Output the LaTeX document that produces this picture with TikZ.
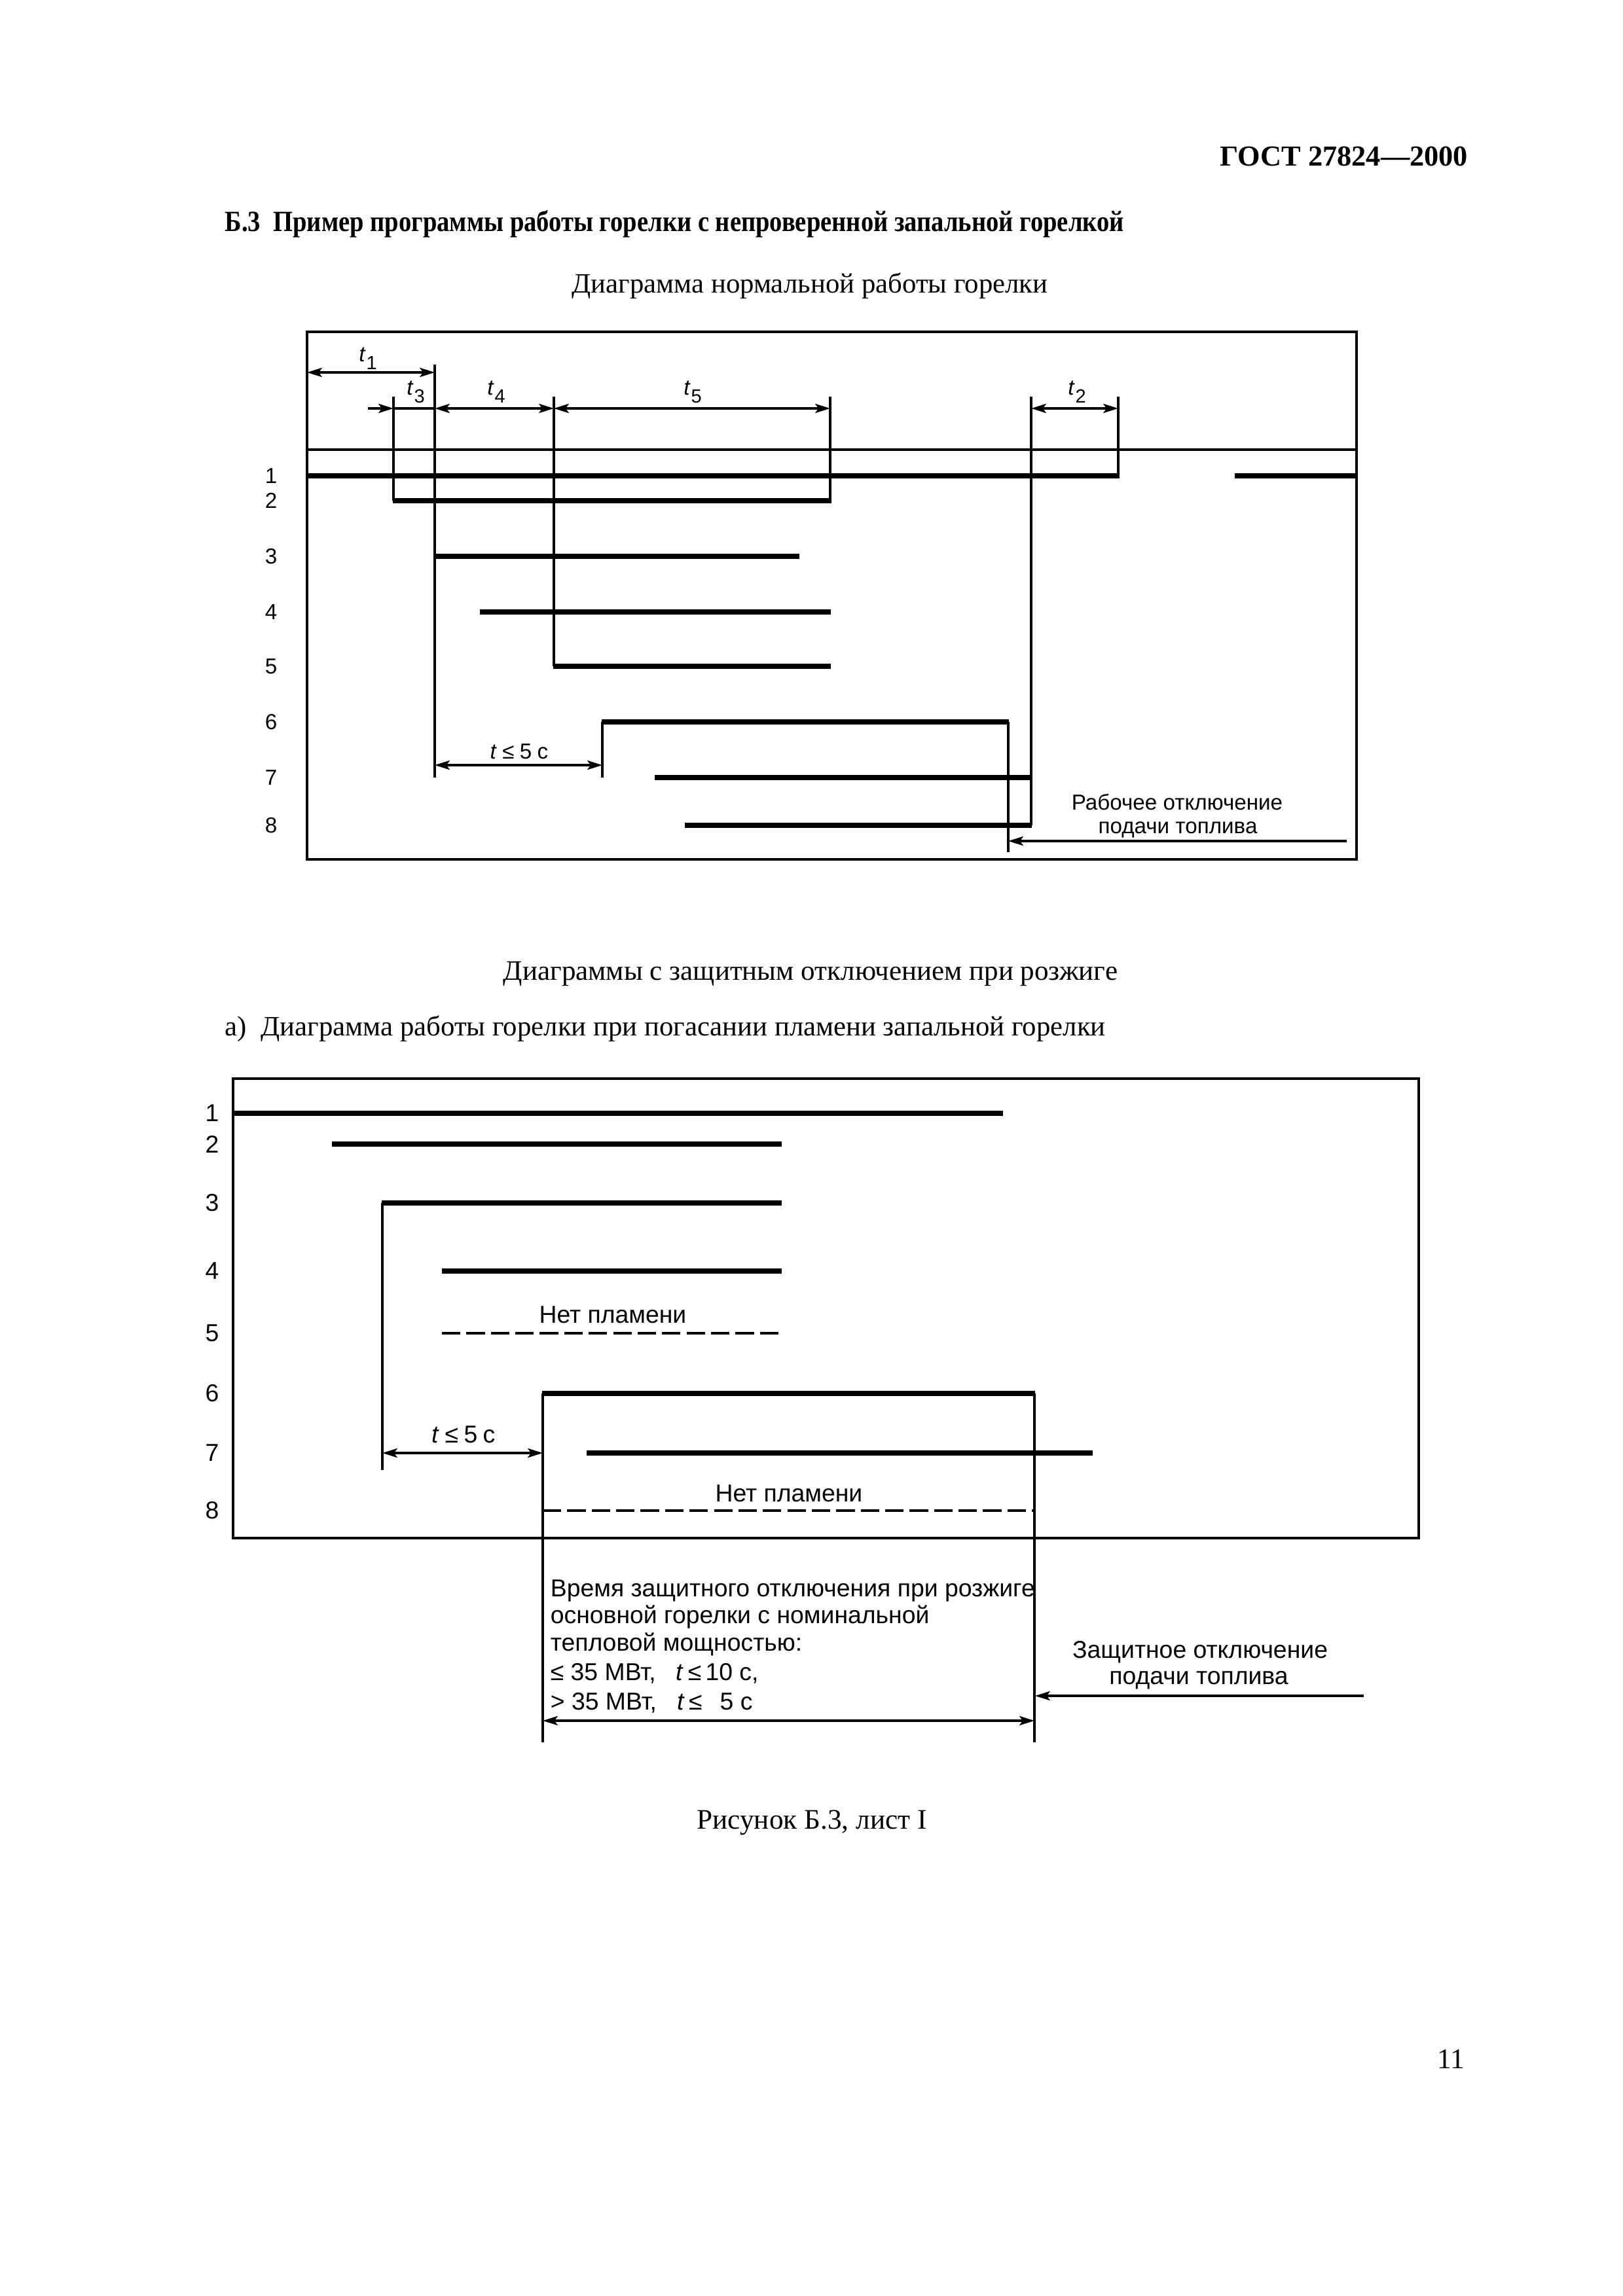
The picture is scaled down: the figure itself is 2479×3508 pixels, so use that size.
\documentclass[tikz,border=0pt]{standalone}
\usepackage{graphicx}
\usepackage{fontspec}
\setmainfont{Liberation Serif}
\setsansfont{Liberation Sans}
\usetikzlibrary{arrows.meta}
\newcommand\tsb[1]{\textit{t}\kern0.2pt\raisebox{-3.1pt}{\fontsize{7}{7}\selectfont #1}}
\newcommand\tlefive{\textit{t}\kern2pt≤\kern2pt5\kern2pt с}
\begin{document}
\begin{tikzpicture}[x=0.24091pt,y=-0.24091pt,
  ah/.tip={Stealth[length=5.5pt,width=3.4pt,inset=1.2pt]},
  frame/.style={line width=0.85pt},
  thinln/.style={line width=0.8pt},
  sig/.style={line width=2.1pt},
  dsig/.style={line width=0.9pt,dash pattern=on 6.8pt off 2.2pt},
  dim/.style={line width=0.8pt,ah-ah},
  ptr/.style={line width=0.8pt,-ah},
  lblA/.style={font=\sffamily\fontsize{8}{9.6}\selectfont,inner sep=0pt},
  lblB/.style={font=\sffamily\fontsize{9}{10.8}\selectfont,inner sep=0pt},
  txt/.style={inner sep=0pt},
]
\fill[white] (0,0) rectangle (2479,3508);
\useasboundingbox (0,0) rectangle (2479,3508);

% ---------- page texts ----------
\node[txt,anchor=base east] (hdr) at (2243,253) {\resizebox{91.3pt}{!}{\bfseries ГОСТ 27824—2000}};
\node[txt,anchor=base west] (ttl) at (343,353) {\resizebox{330.8pt}{\height}{\fontsize{10.8}{13}\selectfont\bfseries Б.3\ \ Пример программы работы горелки с непроверенной запальной горелкой}};
\node[txt,anchor=base] (sub1) at (1237,447) {\resizebox{175.1pt}{!}{Диаграмма нормальной работы горелки}};
\node[txt,anchor=base] (sub2) at (1238,1497) {\resizebox{226.0pt}{!}{Диаграммы с защитным отключением при розжиге}};
\node[txt,anchor=base west] (sub3) at (343,1582) {\resizebox{324.0pt}{!}{а)\ \ Диаграмма работы горелки при погасании пламени запальной горелки}};
\node[txt,anchor=base] (cap) at (1240,2794) {\resizebox{84.6pt}{!}{Рисунок Б.3, лист I}};
\node[txt,anchor=base east,font=\fontsize{10.5}{12}\selectfont] (pg) at (2238,3160) {11};

% ---------- top diagram ----------
\draw[frame] (469,507) rectangle (2072,1313);
\draw[thinln] (469,687) -- (2072,687);

\draw[thinln] (601,606) -- (601,765);
\draw[thinln] (664,557) -- (664,1188);
\draw[thinln] (846,606) -- (846,1018);
\draw[thinln] (1268,606) -- (1268,765);
\draw[thinln] (1575,606) -- (1575,1261);
\draw[thinln] (1708,606) -- (1708,727);
\draw[thinln] (920,1103) -- (920,1188);
\draw[thinln] (1540,1103) -- (1540,1302);

\draw[sig] (469,727) -- (1710,727);
\draw[sig] (1886,727) -- (2072,727);
\draw[sig] (600,765) -- (1270,765);
\draw[sig] (663,850) -- (1221,850);
\draw[sig] (733,935) -- (1269,935);
\draw[sig] (845,1018) -- (1269,1018);
\draw[sig] (919,1103) -- (1541,1103);
\draw[sig] (1000,1188) -- (1576,1188);
\draw[sig] (1046,1261) -- (1576,1261);

\draw[dim] (469,569) -- (664,569);
\draw[ptr] (562,624) -- (601,624);
\draw[thinln] (601,624) -- (664,624);
\draw[dim] (664,624) -- (846,624);
\draw[dim] (846,624) -- (1268,624);
\draw[dim] (1575,624) -- (1708,624);
\draw[dim] (664,1169) -- (920,1169);
\draw[ptr] (2057,1285) -- (1540,1285);

\foreach \n/\yy in {1/727,2/765,3/850,4/935,5/1018,6/1103,7/1188,8/1261}
  \node[lblA] (a\n) at (414,\yy) {\n};

\node[lblA,anchor=base] (t1) at (562,552) {\tsb{1}};
\node[lblA,anchor=base] (t3) at (635,603) {\tsb{3}};
\node[lblA,anchor=base] (t4) at (758,603) {\tsb{4}};
\node[lblA,anchor=base] (t5) at (1058,603) {\tsb{5}};
\node[lblA,anchor=base] (t2) at (1645,603) {\tsb{2}};
\node[lblA,anchor=base] (ta) at (793,1159) {\tlefive};
\node[lblA,anchor=base] (off1) at (1798,1237) {Рабочее отключение};
\node[lblA,anchor=base] (off2) at (1799,1273) {подачи топлива};

% ---------- second diagram ----------
\draw[frame] (356,1648) rectangle (2167,2350);

\draw[sig] (356,1701) -- (1532,1701);
\draw[sig] (507,1748) -- (1194,1748);
\draw[sig] (583,1838) -- (1194,1838);
\draw[thinln] (584,1838) -- (584,2246);
\draw[sig] (675,1942) -- (1194,1942);
\draw[dsig] (675,2037) -- (1194,2037);
\draw[sig] (828,2129) -- (1581,2129);
\draw[thinln] (829,2129) -- (829,2662);
\draw[thinln] (1580,2129) -- (1580,2662);
\draw[dim] (584,2220) -- (829,2220);
\draw[sig] (896,2220) -- (1669,2220);
\draw[dsig] (829,2308) -- (1580,2308);
\draw[dim] (829,2629) -- (1580,2629);
\draw[ptr] (2083,2591) -- (1581,2591);

\foreach \n/\yy in {1/1701,2/1748,3/1838,4/1942,5/2037,6/2129,7/2220,8/2308}
  \node[lblB] (b\n) at (324,\yy) {\n};

\node[lblB,anchor=base] (np1) at (936,2021) {Нет пламени};
\node[lblB,anchor=base] (np2) at (1205,2294) {Нет пламени};
\node[lblB,anchor=base] (tb) at (708,2204) {\tlefive};

\node[lblB,anchor=base west] (w1) at (840,2439) {Время защитного отключения при розжиге};
\node[lblB,anchor=base west] (w2) at (840,2480) {основной горелки с номинальной};
\node[lblB,anchor=base west] (w3) at (840,2522) {тепловой мощностью:};
\node[lblB,anchor=base west] (w4) at (840,2567) {≤ 35 МВт,\ \ \ \textit{t}\kern1.5pt≤\kern1.5pt10 с,};
\node[lblB,anchor=base west] (w5) at (840,2612) {> 35 МВт,\ \ \ \textit{t}\kern1.5pt≤\kern1.5pt\phantom{1}5 с};

\node[lblB,anchor=base] (z1) at (1833,2533) {Защитное отключение};
\node[lblB,anchor=base] (z2) at (1831,2573) {подачи топлива};
\end{tikzpicture}
\end{document}
